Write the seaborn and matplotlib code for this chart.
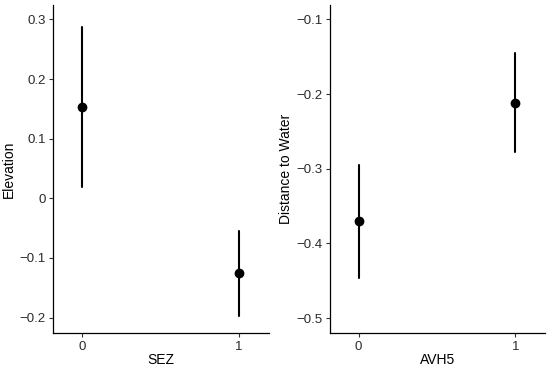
import numpy as np
import pandas as pd
import seaborn as sns
import matplotlib.pyplot as plt
from matplotlib.ticker import FuncFormatter

# values (estimate, lower, upper)
sez_groups = ['0', '1']
sez_mean = [0.153, -0.1255]
sez_lo = [0.0186, -0.197]
sez_hi = [0.287, -0.054]

avh_groups = ['0', '1']
avh_mean = [-0.370, -0.212]
avh_lo = [-0.4457, -0.278]
avh_hi = [-0.2955, -0.1455]

sns.set_theme(style='ticks')
plt.rcParams['font.family'] = ['Liberation Sans', 'DejaVu Sans']


def long_df(groups, mean, lo, hi):
    rows = []
    for g, m, l, h in zip(groups, mean, lo, hi):
        for v in (l, m, h):
            rows.append({'g': g, 'v': v})
    return pd.DataFrame(rows)


fig, axes = plt.subplots(1, 2, figsize=(5.5, 3.67), dpi=100)
fig.subplots_adjust(left=0.097, right=0.991, top=0.986, bottom=0.093, wspace=0.285)

panels = [
    (axes[0], long_df(sez_groups, sez_mean, sez_lo, sez_hi), 'SEZ', 'Elevation',
     (-0.2256, 0.324), [-0.2, -0.1, 0, 0.1, 0.2, 0.3]),
    (axes[1], long_df(avh_groups, avh_mean, avh_lo, avh_hi), 'AVH5', 'Distance to Water',
     (-0.5197, -0.0809), [-0.5, -0.4, -0.3, -0.2, -0.1]),
]

for ax, df, xl, yl, ylim, yt in panels:
    sns.pointplot(data=df, x='g', y='v', estimator=np.median, errorbar=('pi', 100),
                  linestyle='none', color='black', markers='o', markersize=5,
                  err_kws={'linewidth': 1.5}, ax=ax)
    ax.set_xlim(-0.183, 1.19)
    ax.set_ylim(*ylim)
    ax.set_yticks(yt)
    ax.yaxis.set_major_formatter(FuncFormatter(lambda v, p: '0' if abs(v) < 1e-9 else '{:g}'.format(v).replace('-', '\u2212')))
    ax.set_xlabel(xl, fontsize=10, color='black')
    ax.set_ylabel(yl, fontsize=10, color='black')
    ax.xaxis.set_label_coords(0.5, -0.061)
    ax.yaxis.set_label_coords(-0.172, 0.5)
    ax.tick_params(labelsize=9.5, labelcolor='#2a2a2a', length=3, width=0.8, color='#333333', pad=2.5)
    for s in ['top', 'right']:
        ax.spines[s].set_visible(False)
    for s in ['left', 'bottom']:
        ax.spines[s].set_linewidth(0.9)
        ax.spines[s].set_color('black')

fig.savefig('out.png', dpi=100)
